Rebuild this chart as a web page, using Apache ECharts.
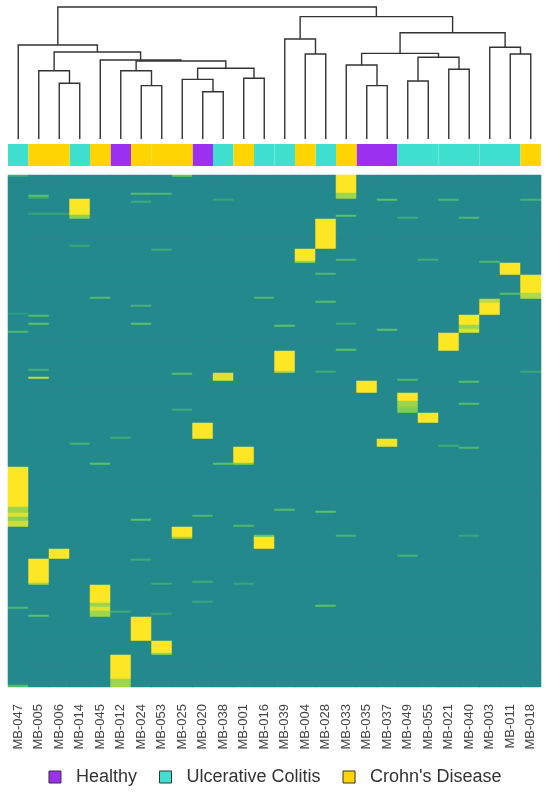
<!DOCTYPE html>
<html>
<head>
<meta charset="utf-8">
<script src="https://cdn.jsdelivr.net/npm/echarts@6/dist/echarts.min.js"></script>
<style>
  html, body { margin: 0; padding: 0; background: #fff; }
  #chart { width: 550px; height: 801px; }
</style>
</head>
<body>
<div id="chart"></div>
<script>
// samples in dendrogram order
const samples = ['MB-047','MB-005','MB-006','MB-014','MB-045','MB-012','MB-024','MB-053','MB-025',
  'MB-020','MB-038','MB-001','MB-016','MB-039','MB-004','MB-028','MB-033','MB-035','MB-037',
  'MB-049','MB-055','MB-021','MB-040','MB-003','MB-011','MB-018']
// H = Healthy, U = Ulcerative Colitis, C = Crohn's Disease
const groups = ['U','C','C','U','C','H','C','C','C','H','U','C','U','U','C','U','C','H','H','U','U','U','U','U','U','C']
const groupNames = { H: 'Healthy', U: 'Ulcerative Colitis', C: "Crohn's Disease" }
const groupColors = { H: '#9b30f0', U: '#40e0d0', C: '#ffd500' }

// linkage: [a, b, height]; ids 0..25 are leaves, 26+ are previous merges
const merges = [
  [2, 3, 4.22], [1, 26, 5.17], [6, 7, 4.04], [5, 28, 5.17], [9, 10, 3.58], [8, 30, 4.52],
  [11, 12, 4.60], [31, 32, 5.36], [29, 33, 5.91], [4, 34, 5.98], [27, 35, 6.59], [0, 36, 7.12],
  [14, 15, 6.44], [13, 38, 7.58], [17, 18, 4.04], [16, 40, 5.61], [19, 20, 4.39], [21, 22, 5.28],
  [42, 43, 6.19], [41, 44, 6.49], [24, 25, 6.44], [23, 46, 6.95], [45, 47, 8.05], [39, 48, 9.27],
  [37, 49, 10]
]

// heatmap: feature rows, baseline value and highlights
const nRows = 256
const baseValue = 0.47
const rowShade = [[3,0.455],[17,0.46],[31,0.455],[48,0.46],[56,0.455],[66,0.46],[82,0.455],[96,0.46],
  [106,0.455],[122,0.46],[140,0.455],[150,0.46],[160,0.455],[190,0.46],[200,0.455],[225,0.46],[245,0.455]]
// [col, firstRow, lastRow, value]
const blocks = [
  [16,0,8,1],[16,9,11,0.85],[3,12,19,1],[3,20,21,0.82],[15,22,36,1],[14,37,42,1],[14,43,43,0.85],
  [24,44,49,1],[25,50,58,1],[25,59,61,0.88],[23,62,63,0.9],[23,64,69,1],[22,70,74,1],[22,75,76,0.85],
  [22,77,78,0.95],[21,79,87,1],[13,88,97,1],[13,98,98,0.88],[10,99,102,0.95],[17,103,108,1],
  [19,109,112,1],[19,113,115,0.85],[19,116,118,0.8],[20,119,123,1],[9,124,131,1],[18,132,135,0.98],
  [11,136,143,1],[11,144,144,0.8],[0,146,165,1],[0,166,168,0.85],[0,169,170,0.95],[0,171,172,0.82],
  [0,173,175,0.92],[8,176,180,1],[8,181,181,0.85],[12,180,180,0.75],[12,181,186,1],[2,187,191,1],
  [1,192,203,1],[1,204,204,0.85],[4,205,213,1],[4,214,215,0.85],[4,216,217,0.95],[4,218,220,0.85],
  [6,221,232,1],[7,233,238,1],[7,239,239,0.85],[5,240,251,1],[5,252,255,0.85]
]
// [col, row, value]
const stripes = [
  [0,0,0.62],[0,69,0.55],[0,78,0.68],[1,10,0.72],[1,11,0.6],[1,70,0.7],[1,74,0.72],[1,97,0.65],
  [1,101,0.9],[1,19,0.58],[2,19,0.58],[3,35,0.6],[4,61,0.7],[6,9,0.7],[6,13,0.62],[6,65,0.65],
  [6,74,0.72],[7,9,0.68],[7,37,0.62],[8,0,0.75],[8,99,0.7],[8,117,0.62],[10,12,0.6],[12,61,0.68],
  [13,75,0.72],[15,49,0.68],[15,63,0.7],[15,98,0.62],[16,20,0.72],[16,42,0.68],[16,74,0.62],
  [16,87,0.72],[18,12,0.72],[18,77,0.72],[19,21,0.62],[19,102,0.68],[20,42,0.62],[21,12,0.68],
  [22,21,0.68],[22,103,0.7],[22,114,0.7],[23,43,0.68],[24,59,0.7],[25,12,0.65],[25,98,0.6],
  [0,216,0.68],[0,255,0.7],[1,220,0.72],[3,134,0.65],[4,144,0.72],[5,131,0.62],[5,218,0.62],
  [6,172,0.72],[6,192,0.62],[7,204,0.62],[7,219,0.6],[9,170,0.68],[9,203,0.62],[9,213,0.6],
  [10,144,0.72],[11,175,0.68],[11,204,0.6],[13,167,0.7],[15,168,0.72],[15,215,0.72],
  [16,180,0.65],[19,190,0.65],[21,135,0.62],[22,136,0.68],[22,180,0.6]
]

// build the matrix
var grid = []
for (var r = 0; r < nRows; r++) {
  grid.push(samples.map(() => baseValue))
}
rowShade.forEach(function (s) {
  for (var c = 0; c < samples.length; c++) grid[s[0]][c] = s[1]
})
blocks.forEach(function (b) {
  for (var r = b[1]; r <= b[2]; r++) grid[r][b[0]] = b[3]
})
stripes.forEach(function (s) { grid[s[1]][s[0]] = s[2] })
var heatData = []
var rowNames = []
for (var r = 0; r < nRows; r++) {
  rowNames.push('f' + r)
  for (var c = 0; c < samples.length; c++) heatData.push([c, r, grid[r][c]])
}

// dendrogram segments from the linkage
var nodeX = samples.map((s, i) => i + 0.5)
var nodeH = samples.map(() => 0)
var dendroData = []
merges.forEach(function (m) {
  var a = m[0], b = m[1]
  dendroData.push([nodeX[a], nodeH[a], nodeX[b], nodeH[b], m[2]])
  nodeX.push((nodeX[a] + nodeX[b]) / 2)
  nodeH.push(m[2])
})

var viridis = ['#440154', '#3b528b', '#21918c', '#5ec962', '#fde725']
var font = 'Liberation Sans, Arial, sans-serif'
var annSeries = ['H', 'U', 'C'].map(function (g) {
  return {
    name: groupNames[g],
    type: 'bar',
    xAxisIndex: 1, yAxisIndex: 1,
    barWidth: '100%', barGap: '-100%',
    itemStyle: { color: groupColors[g] },
    data: groups.map(x => x === g ? 1 : '-'),
    silent: true
  }
})

var myChart = echarts.init(document.getElementById('chart'))
var option = {
  animation: false,
  textStyle: { fontFamily: font },
  grid: [
    // background in the baseline colour hides seams between cells
    { left: 8, top: 175, width: 533, height: 512, show: true, backgroundColor: '#218a8c', borderWidth: 0 },
    { left: 8, top: 144, width: 533, height: 22 },
    { left: 8, top: 7, width: 533, height: 132 }
  ],
  xAxis: [
    { type: 'category', data: samples, gridIndex: 0,
      axisLine: { show: false }, axisTick: { show: false },
      axisLabel: { rotate: 90, fontSize: 13, color: '#444', margin: 17, interval: 0, fontFamily: font } },
    { type: 'category', data: samples, gridIndex: 1, show: false },
    { type: 'value', gridIndex: 2, min: 0, max: samples.length, show: false }
  ],
  yAxis: [
    { type: 'category', data: rowNames, gridIndex: 0, inverse: true, show: false },
    { type: 'value', gridIndex: 1, min: 0, max: 1, show: false },
    { type: 'value', gridIndex: 2, min: 0, max: 10, show: false }
  ],
  visualMap: {
    show: false, min: 0, max: 1, seriesIndex: 0,
    inRange: { color: viridis }
  },
  legend: {
    data: annSeries.map(s => s.name),
    left: 'center', top: 763,
    icon: 'rect', itemWidth: 12, itemHeight: 12, itemGap: 22,
    itemStyle: { borderColor: '#333', borderWidth: 1 },
    textStyle: { fontSize: 18, color: '#333', fontFamily: font, padding: [0, 0, 0, 10] }
  },
  series: [
    { type: 'heatmap', xAxisIndex: 0, yAxisIndex: 0, data: heatData, progressive: 0, silent: true },
    ...annSeries,
    { type: 'custom', xAxisIndex: 2, yAxisIndex: 2, data: dendroData, silent: true, clip: false,
      renderItem: function (params, api) {
        var p1 = api.coord([api.value(0), api.value(1)])
        var p2 = api.coord([api.value(0), api.value(4)])
        var p3 = api.coord([api.value(2), api.value(4)])
        var p4 = api.coord([api.value(2), api.value(3)])
        return { type: 'polyline', shape: { points: [p1, p2, p3, p4] },
          style: { stroke: '#333', lineWidth: 1.4, fill: null } }
      }
    }
  ]
}
myChart.setOption(option)
</script>
</body>
</html>
